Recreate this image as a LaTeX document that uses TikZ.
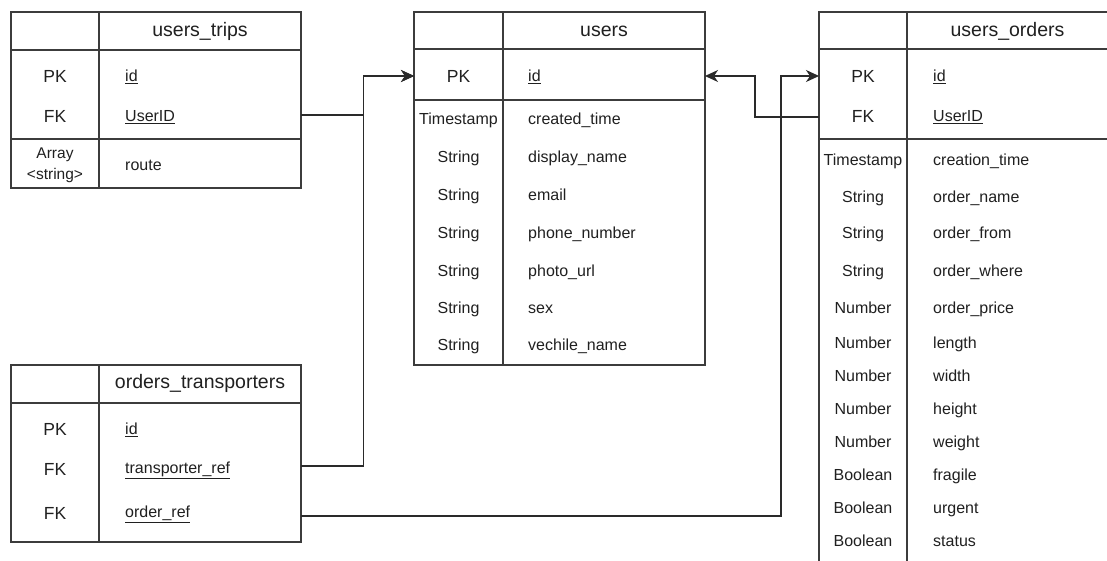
\documentclass[tikz,border=0pt]{standalone}
\usepackage{fontspec}
\setmainfont{Liberation Sans}
\usetikzlibrary{arrows.meta}
\definecolor{linec}{HTML}{3C3C3C}
\definecolor{txtc}{HTML}{202020}
\begin{document}
\begin{tikzpicture}[x=1pt,y=-1pt,
  grid/.style={draw=linec, line width=1.05pt},
  tbl/.style={draw=linec, line width=1.05pt, anchor=north west, inner sep=0pt, outer sep=0pt},
  hdr/.style={font=\fontsize{19.5}{22}\selectfont, text=txtc, inner sep=0pt},
  keyc/.style={font=\fontsize{17.5}{20}\selectfont, text=txtc, inner sep=0pt},
  fld/.style={font=\fontsize{16}{18}\selectfont, text=txtc, anchor=base west, inner sep=0pt},
  typ/.style={font=\fontsize{16}{18}\selectfont, text=txtc, anchor=base, inner sep=0pt},
  conn/.style={draw=linec!70!black, line width=1.05pt, -{Stealth[length=13pt,width=12pt,inset=4pt]}}
]
\useasboundingbox (0,0) rectangle (1107,560);
\clip (0,0) rectangle (1107,560);
\fill[white] (0,0) rectangle (1107,560);

% ---------------- users_trips ----------------
\node[tbl, minimum width=290pt, minimum height=176pt] (trips) at (11,12) {};
\draw[grid] (99,12) -- (99,188);
\draw[grid] (11,50) -- (301,50);
\draw[grid] (11,139) -- (301,139);
\node[hdr] (tripsH) at (200,31) {users\_trips};
\node[keyc] (tPK) at (55,76) {PK};
\node[keyc] (tFK) at (55,116) {FK};
\node[fld] (tid) at (125,81.5) {\underline{id}};
\node[fld] (tuid) at (125,121.5) {\underline{UserID}};
\node[font=\fontsize{15.5}{21}\selectfont, text=txtc, inner sep=0pt, align=center] (tarr) at (55,165) {Array\\<string>};
\node[fld] (troute) at (125,170.5) {route};

% ---------------- users ----------------
\node[tbl, minimum width=291pt, minimum height=353pt] (users) at (414,12) {};
\draw[grid] (503,12) -- (503,365);
\draw[grid] (414,49) -- (705,49);
\draw[grid] (414,100) -- (705,100);
\node[hdr] (usersH) at (604,31) {users};
\node[keyc] (uPK) at (458.5,76) {PK};
\node[fld] (uid) at (528,81.5) {\underline{id}};
\foreach \t/\f/\y [count=\i] in {Timestamp/created\_time/119, String/display\_name/157, String/email/195, String/phone\_number/233, String/photo\_url/271, String/sex/308, String/vechile\_name/345}{
  \node[typ] (ut\i) at (458.5,\y+5.5) {\t};
  \node[fld] (uf\i) at (528,\y+5.5) {\f};
}

% ---------------- users_orders ----------------
\node[tbl, minimum width=289pt, minimum height=570pt] (orders) at (819,12) {};
\draw[grid] (907,12) -- (907,582);
\draw[grid] (819,49) -- (1108,49);
\draw[grid] (819,139) -- (1108,139);
\node[hdr] (ordersH) at (1007.5,31) {users\_orders};
\node[keyc] (oPK) at (863,76) {PK};
\node[keyc] (oFK) at (863,116) {FK};
\node[fld] (oid) at (933,81.5) {\underline{id}};
\node[fld] (ouid) at (933,121.5) {\underline{UserID}};
\foreach \t/\f/\y [count=\i] in {Timestamp/creation\_time/160, String/order\_name/197, String/order\_from/233, String/order\_where/271, Number/order\_price/308, Number/length/343, Number/width/376, Number/height/409, Number/weight/442, Boolean/fragile/475, Boolean/urgent/508, Boolean/status/541}{
  \node[typ] (ot\i) at (863,\y+5.5) {\t};
  \node[fld] (of\i) at (933,\y+5.5) {\f};
}

% ---------------- orders_transporters ----------------
\node[tbl, minimum width=290pt, minimum height=177pt] (otr) at (11,365) {};
\draw[grid] (99,365) -- (99,542);
\draw[grid] (11,403) -- (301,403);
\node[hdr] (otrH) at (200,383) {orders\_transporters};
\node[keyc] (rPK) at (55,429) {PK};
\node[keyc] (rFK1) at (55,469) {FK};
\node[keyc] (rFK2) at (55,513) {FK};
\node[fld] (rid) at (125,434.5) {\underline{id}};
\node[fld] (rtr) at (125,473.5) {\underline{transporter\_ref}};
\node[fld] (ror) at (125,517.5) {\underline{order\_ref}};

% ---------------- connectors ----------------
\coordinate (b1) at (363.5,0);
\coordinate (b3) at (755,0);
\coordinate (b4) at (781,0);
\coordinate (y1) at (0,115);
\coordinate (y2) at (0,466);
\coordinate (y3) at (0,516);
\coordinate (yo) at (0,117);

\draw[conn] (trips.east |- y1) -| (b1 |- uPK) -- (users.west |- uPK);
\draw[conn] (otr.east |- y2) -| (b1 |- uPK) -- (users.west |- uPK);
\draw[conn] (orders.west |- yo) -| (b3 |- uPK) -- (users.east |- uPK);
\draw[conn] (otr.east |- y3) -| (b4 |- oPK) -- (orders.west |- oPK);
\end{tikzpicture}
\end{document}
